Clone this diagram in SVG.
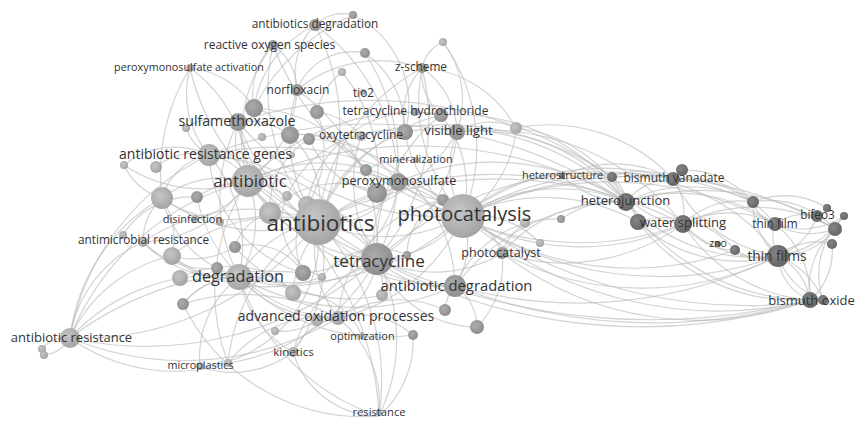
<svg xmlns="http://www.w3.org/2000/svg" width="856" height="421" viewBox="0 0 856 421">
<defs>
<radialGradient id="gL" cx="0.4" cy="0.4" r="0.65"><stop offset="0" stop-color="#c6c6c6"/><stop offset="1" stop-color="#a2a2a2"/></radialGradient>
<radialGradient id="gM" cx="0.4" cy="0.4" r="0.65"><stop offset="0" stop-color="#acacac"/><stop offset="1" stop-color="#8c8c8c"/></radialGradient>
<radialGradient id="gR" cx="0.4" cy="0.4" r="0.65"><stop offset="0" stop-color="#858585"/><stop offset="1" stop-color="#626262"/></radialGradient>
</defs>
<style>
.e path{fill:none;stroke:#bcbcbc;stroke-width:1.2;opacity:0.65}
.L{fill:url(#gL)}
.M{fill:url(#gM)}
.R{fill:url(#gR)}
text{font-family:"Open Sans","Liberation Sans",sans-serif;fill:#333333;text-anchor:middle}
</style>
<rect width="856" height="421" fill="#ffffff"/>
<g id="connectors" class="e">
<path d="M463 216A160 160 0 0 1 318 222"/><path d="M463 216A240 240 0 0 0 248 181"/><path d="M463 216A110 110 0 0 1 377 259"/><path d="M463 216A250 250 0 0 1 239 277"/><path d="M463 216A80 80 0 0 1 455 286"/><path d="M463 216A180 180 0 0 1 626 202"/><path d="M463 216A240 240 0 0 0 683 224"/><path d="M463 216A190 190 0 0 1 638 222"/><path d="M463 216A350 350 0 0 0 778 256"/><path d="M463 216A390 390 0 0 0 810 300"/><path d="M463 216A230 230 0 0 1 673 179"/><path d="M463 216A170 170 0 0 1 612 177"/><path d="M463 216A95 95 0 0 1 457 132"/><path d="M463 216A115 115 0 0 0 441 115"/><path d="M463 216A170 170 0 0 1 422 68"/><path d="M463 216A100 100 0 0 0 398 182"/><path d="M463 216A60 60 0 0 1 502 253"/><path d="M463 216A340 340 0 0 1 775 224"/><path d="M463 216A400 400 0 0 1 835 229"/><path d="M463 216A320 320 0 0 1 753 202"/><path d="M463 216A270 270 0 0 1 238 122"/><path d="M463 216A290 290 0 0 0 209 155"/><path d="M463 216A180 180 0 0 1 338 318"/><path d="M463 216A115 115 0 0 1 405 132"/><path d="M463 216A280 280 0 0 1 273 45"/><path d="M463 216A115 115 0 0 0 516 128"/><path d="M463 216A300 300 0 0 0 735 250"/>
<path d="M318 222A90 90 0 0 1 248 181"/><path d="M318 222A80 80 0 0 1 377 259"/><path d="M318 222A110 110 0 0 0 239 277"/><path d="M318 222A170 170 0 0 0 455 286"/><path d="M318 222A135 135 0 0 1 238 122"/><path d="M318 222A140 140 0 0 0 209 155"/><path d="M318 222A300 300 0 0 1 70 338"/><path d="M318 222A230 230 0 0 1 379 416"/><path d="M318 222A340 340 0 0 1 626 202"/><path d="M318 222A180 180 0 0 1 441 115"/><path d="M318 222A185 185 0 0 0 457 132"/><path d="M318 222A145 145 0 0 1 297 90"/><path d="M318 222A220 220 0 0 0 315 25"/><path d="M318 222A200 200 0 0 1 273 45"/><path d="M318 222A220 220 0 0 1 190 68"/><path d="M318 222A190 190 0 0 0 143 242"/><path d="M318 222A185 185 0 0 0 228 363"/><path d="M318 222A145 145 0 0 1 293 352"/><path d="M318 222A110 110 0 0 0 338 318"/><path d="M318 222A140 140 0 0 1 405 132"/><path d="M318 222A75 75 0 0 0 398 182"/><path d="M318 222A175 175 0 0 1 162 198"/><path d="M318 222A165 165 0 0 0 172 256"/><path d="M318 222A200 200 0 0 1 422 68"/><path d="M318 222A550 550 0 0 0 810 300"/><path d="M318 222A400 400 0 0 1 683 224"/><path d="M318 222A130 130 0 0 1 200 367"/>
<path d="M248 181A160 160 0 0 0 377 259"/><path d="M248 181A105 105 0 0 1 239 277"/><path d="M248 181A55 55 0 0 0 209 155"/><path d="M248 181A70 70 0 0 1 238 122"/><path d="M248 181A260 260 0 0 0 70 338"/><path d="M248 181A130 130 0 0 1 143 242"/><path d="M248 181A100 100 0 0 0 162 198"/><path d="M248 181A140 140 0 0 1 124 165"/><path d="M248 181A140 140 0 0 0 190 68"/><path d="M248 181A150 150 0 0 1 273 45"/><path d="M248 181A250 250 0 0 0 455 286"/><path d="M248 181A225 225 0 0 1 441 115"/><path d="M248 181A80 80 0 0 1 195 219"/><path d="M248 181A300 300 0 0 1 379 416"/><path d="M248 181A200 200 0 0 0 228 363"/><path d="M248 181A420 420 0 0 1 626 202"/><path d="M248 181A120 120 0 0 0 297 90"/><path d="M248 181A160 160 0 0 1 398 182"/>
<path d="M377 259A155 155 0 0 1 239 277"/><path d="M377 259A95 95 0 0 0 455 286"/><path d="M377 259A230 230 0 0 1 238 122"/><path d="M377 259A190 190 0 0 0 297 90"/><path d="M377 259A170 170 0 0 1 441 115"/><path d="M377 259A160 160 0 0 0 457 132"/><path d="M377 259A140 140 0 0 1 361 136"/><path d="M377 259A80 80 0 0 1 338 318"/><path d="M377 259A75 75 0 0 1 398 182"/><path d="M377 259A210 210 0 0 0 422 68"/><path d="M377 259A140 140 0 0 0 293 352"/><path d="M377 259A175 175 0 0 1 379 416"/><path d="M377 259A340 340 0 0 1 673 179"/><path d="M377 259A350 350 0 0 1 70 338"/><path d="M377 259A215 215 0 0 0 209 155"/><path d="M377 259A205 205 0 0 1 228 363"/><path d="M377 259A130 130 0 0 0 502 253"/>
<path d="M239 277A240 240 0 0 0 455 286"/><path d="M239 277A195 195 0 0 0 70 338"/><path d="M239 277A115 115 0 0 1 143 242"/><path d="M239 277A100 100 0 0 0 200 367"/><path d="M239 277A105 105 0 0 0 293 352"/><path d="M239 277A120 120 0 0 0 338 318"/><path d="M239 277A220 220 0 0 0 379 416"/><path d="M239 277A170 170 0 0 1 238 122"/><path d="M239 277A140 140 0 0 0 209 155"/><path d="M239 277A75 75 0 0 1 172 256"/><path d="M239 277A70 70 0 0 0 183 304"/><path d="M239 277A200 200 0 0 0 413 335"/><path d="M239 277A110 110 0 0 1 162 198"/>
<path d="M70 338A250 250 0 0 1 209 155"/><path d="M70 338A125 125 0 0 1 143 242"/><path d="M70 338A180 180 0 0 0 228 363"/><path d="M70 338A185 185 0 0 1 162 198"/><path d="M70 338A145 145 0 0 1 172 256"/><path d="M70 338A300 300 0 0 0 338 318"/><path d="M70 338A30 30 0 0 0 42 349"/><path d="M70 338A35 35 0 0 1 44 355"/><path d="M70 338A330 330 0 0 1 303 273"/>
<path d="M626 202A70 70 0 0 1 683 224"/><path d="M626 202A30 30 0 0 1 638 222"/><path d="M626 202A60 60 0 0 1 673 179"/><path d="M626 202A35 35 0 0 0 612 177"/><path d="M626 202A180 180 0 0 0 778 256"/><path d="M626 202A165 165 0 0 1 775 224"/><path d="M626 202A140 140 0 0 1 753 202"/><path d="M626 202A225 225 0 0 0 810 300"/><path d="M626 202A150 150 0 0 0 502 253"/><path d="M626 202A215 215 0 0 0 455 286"/><path d="M626 202A100 100 0 0 1 562 176"/><path d="M626 202A250 250 0 0 1 835 229"/>
<path d="M683 224A110 110 0 0 0 778 256"/><path d="M683 224A100 100 0 0 1 775 224"/><path d="M683 224A60 60 0 0 0 673 179"/><path d="M683 224A80 80 0 0 1 753 202"/><path d="M683 224A165 165 0 0 0 810 300"/><path d="M683 224A65 65 0 0 0 735 250"/><path d="M683 224A160 160 0 0 1 835 229"/><path d="M683 224A200 200 0 0 1 502 253"/>
<path d="M638 222A150 150 0 0 0 778 256"/><path d="M638 222A200 200 0 0 0 810 300"/><path d="M638 222A90 90 0 0 1 735 250"/>
<path d="M778 256A60 60 0 0 1 810 300"/><path d="M778 256A50 50 0 0 0 810 300"/><path d="M778 256A80 80 0 0 1 823 300"/><path d="M778 256A70 70 0 0 0 823 300"/><path d="M778 256A40 40 0 0 1 775 224"/><path d="M778 256A70 70 0 0 0 835 229"/><path d="M778 256A60 60 0 0 1 832 244"/><path d="M778 256A65 65 0 0 0 817 216"/><path d="M778 256A70 70 0 0 1 753 202"/><path d="M778 256A50 50 0 0 1 735 250"/><path d="M778 256A140 140 0 0 1 673 179"/><path d="M778 256A100 100 0 0 0 844 216"/>
<path d="M775 224A50 50 0 0 1 817 216"/><path d="M775 224A75 75 0 0 0 844 216"/><path d="M775 224A35 35 0 0 1 753 202"/><path d="M775 224A70 70 0 0 0 835 229"/><path d="M775 224A90 90 0 0 1 810 300"/>
<path d="M810 300A80 80 0 0 1 835 229"/><path d="M810 300A65 65 0 0 0 832 244"/><path d="M823 300A80 80 0 0 1 844 216"/>
<path d="M753 202A90 90 0 0 1 835 229"/><path d="M753 202A80 80 0 0 1 827 208"/><path d="M673 179A100 100 0 0 1 753 202"/><path d="M673 179A120 120 0 0 1 775 224"/><path d="M682 170A90 90 0 0 1 753 202"/>
<path d="M455 286A550 550 0 0 0 810 300"/><path d="M377 259A650 650 0 0 0 810 300"/><path d="M463 216A500 500 0 0 0 823 300"/><path d="M455 286A450 450 0 0 0 778 256"/><path d="M502 253A300 300 0 0 0 778 256"/><path d="M502 253A320 320 0 0 0 810 300"/>
<path d="M612 177A70 70 0 0 1 673 179"/><path d="M612 177A90 90 0 0 0 683 224"/><path d="M612 177A190 190 0 0 1 778 256"/><path d="M562 176A120 120 0 0 1 673 179"/>
<path d="M238 122A420 420 0 0 1 612 177"/><path d="M398 182A240 240 0 0 1 626 202"/><path d="M405 132A250 250 0 0 1 626 202"/><path d="M361 136A300 300 0 0 1 612 177"/><path d="M209 155A450 450 0 0 1 626 202"/><path d="M457 132A190 190 0 0 1 626 202"/><path d="M441 115A210 210 0 0 1 626 202"/><path d="M516 128A140 140 0 0 1 626 202"/><path d="M516 128A170 170 0 0 1 673 179"/><path d="M457 132A60 60 0 0 1 516 128"/><path d="M457 132A250 250 0 0 1 683 224"/><path d="M398 182A300 300 0 0 0 683 224"/>
<path d="M315 25A40 40 0 0 1 353 15"/><path d="M315 25A70 70 0 0 0 297 90"/><path d="M315 25A110 110 0 0 0 254 108"/><path d="M273 45A70 70 0 0 0 254 108"/><path d="M273 45A55 55 0 0 1 297 90"/><path d="M365 53A95 95 0 0 1 405 132"/><path d="M365 53A210 210 0 0 1 377 259"/><path d="M365 53A60 60 0 0 0 297 90"/><path d="M422 68A80 80 0 0 1 457 132"/><path d="M422 68A55 55 0 0 0 441 115"/><path d="M422 68A35 35 0 0 1 443 42"/><path d="M443 42A95 95 0 0 1 457 132"/><path d="M443 42A180 180 0 0 1 463 216"/><path d="M422 68A70 70 0 0 0 405 132"/><path d="M422 68A130 130 0 0 0 297 90"/><path d="M422 68A115 115 0 0 1 516 128"/><path d="M190 68A85 85 0 0 1 254 108"/><path d="M190 68A95 95 0 0 0 209 155"/><path d="M353 15A100 100 0 0 1 405 132"/><path d="M342 72A70 70 0 0 0 317 112"/><path d="M342 72A160 160 0 0 1 377 193"/><path d="M353 15A200 200 0 0 0 254 108"/><path d="M315 25A200 200 0 0 1 398 182"/><path d="M190 68A200 200 0 0 0 162 198"/>
<path d="M338 318A60 60 0 0 0 293 352"/><path d="M338 318A80 80 0 0 1 413 335"/><path d="M338 318A110 110 0 0 1 445 310"/><path d="M455 286A40 40 0 0 0 445 310"/><path d="M455 286A50 50 0 0 1 477 327"/><path d="M377 259A110 110 0 0 0 477 327"/><path d="M477 327A90 90 0 0 0 502 253"/><path d="M338 318A110 110 0 0 1 379 416"/><path d="M293 352A90 90 0 0 0 379 416"/><path d="M413 335A100 100 0 0 1 379 416"/><path d="M200 367A100 100 0 0 0 293 352"/><path d="M228 363A120 120 0 0 1 338 318"/><path d="M183 304A200 200 0 0 0 379 416"/><path d="M338 318A200 200 0 0 0 183 304"/><path d="M275 331A60 60 0 0 0 317 320"/><path d="M362 336A70 70 0 0 0 293 293"/>
<path d="M162 198A60 60 0 0 1 209 155"/><path d="M162 198A60 60 0 0 0 143 242"/><path d="M162 198A75 75 0 0 1 172 256"/><path d="M156 167A60 60 0 0 1 209 155"/><path d="M124 165A80 80 0 0 1 209 155"/><path d="M124 165A60 60 0 0 0 162 198"/><path d="M186 128A55 55 0 0 1 238 122"/><path d="M186 128A50 50 0 0 0 209 155"/><path d="M254 108A60 60 0 0 1 290 135"/><path d="M238 122A70 70 0 0 1 290 135"/><path d="M290 135A90 90 0 0 1 318 222"/><path d="M309 139A80 80 0 0 0 270 213"/><path d="M317 112A100 100 0 0 1 307 205"/><path d="M270 213A50 50 0 0 0 235 247"/><path d="M235 247A60 60 0 0 1 303 273"/><path d="M217 268A80 80 0 0 1 293 293"/><path d="M172 256A80 80 0 0 0 235 247"/><path d="M180 278A80 80 0 0 1 217 268"/><path d="M183 304A80 80 0 0 1 293 293"/><path d="M143 242A90 90 0 0 0 217 268"/><path d="M123 235A80 80 0 0 1 197 197"/><path d="M197 197A80 80 0 0 1 287 196"/><path d="M287 196A60 60 0 0 0 322 277"/><path d="M307 205A70 70 0 0 0 303 273"/><path d="M303 273A100 100 0 0 0 398 182"/><path d="M293 293A110 110 0 0 1 377 193"/><path d="M382 295A80 80 0 0 0 307 205"/><path d="M322 277A70 70 0 0 1 407 255"/><path d="M366 170A80 80 0 0 0 290 135"/><path d="M377 193A90 90 0 0 1 309 139"/><path d="M361 136A70 70 0 0 0 317 112"/><path d="M416 161A80 80 0 0 0 366 170"/><path d="M443 200A80 80 0 0 1 398 182"/><path d="M443 200A60 60 0 0 0 407 255"/><path d="M525 223A60 60 0 0 0 502 253"/><path d="M540 243A90 90 0 0 0 463 216"/><path d="M561 219A100 100 0 0 1 626 202"/><path d="M561 219A110 110 0 0 0 455 286"/>
<path d="M270 213A90 90 0 0 1 377 193"/><path d="M307 205A110 110 0 0 1 441 115"/><path d="M290 135A120 120 0 0 1 398 182"/><path d="M254 108A140 140 0 0 1 377 193"/><path d="M162 198A120 120 0 0 0 270 213"/><path d="M209 155A130 130 0 0 0 303 273"/><path d="M235 247A150 150 0 0 0 382 295"/><path d="M172 256A160 160 0 0 0 322 277"/><path d="M287 196A110 110 0 0 1 405 132"/><path d="M197 197A150 150 0 0 0 338 318"/><path d="M443 200A130 130 0 0 0 338 318"/><path d="M309 139A150 150 0 0 1 455 286"/>
</g>
<g id="n-u1"><circle class="M" cx="353" cy="15" r="4"/></g>
<g id="n-u2"><circle class="M" cx="365" cy="53" r="5"/></g>
<g id="n-u3"><circle class="L" cx="342" cy="72" r="4"/></g>
<g id="n-u4"><circle class="L" cx="443" cy="42" r="4"/></g>
<g id="n-u5"><circle class="M" cx="254" cy="108" r="9"/></g>
<g id="n-u6"><circle class="M" cx="317" cy="112" r="7"/></g>
<g id="n-u7"><circle class="M" cx="290" cy="135" r="9"/></g>
<g id="n-u8"><circle class="L" cx="262" cy="137" r="4"/></g>
<g id="n-u9"><circle class="M" cx="309" cy="139" r="6"/></g>
<g id="n-u10"><circle class="L" cx="186" cy="128" r="4"/></g>
<g id="n-u11"><circle class="L" cx="156" cy="167" r="6"/></g>
<g id="n-u12"><circle class="L" cx="124" cy="165" r="4"/></g>
<g id="n-u13"><circle class="L" cx="292" cy="155" r="3"/></g>
<g id="n-u14"><circle class="L" cx="162" cy="198" r="11"/></g>
<g id="n-u15"><circle class="M" cx="197" cy="197" r="6"/></g>
<g id="n-u16"><circle class="L" cx="287" cy="196" r="5"/></g>
<g id="n-u17"><circle class="L" cx="270" cy="213" r="11"/></g>
<g id="n-u18"><circle class="L" cx="307" cy="205" r="9"/></g>
<g id="n-u19"><circle class="M" cx="235" cy="247" r="6"/></g>
<g id="n-u20"><circle class="L" cx="123" cy="235" r="4"/></g>
<g id="n-u21"><circle class="L" cx="172" cy="256" r="9"/></g>
<g id="n-u22"><circle class="L" cx="180" cy="278" r="8"/></g>
<g id="n-u23"><circle class="M" cx="217" cy="268" r="6"/></g>
<g id="n-u24"><circle class="M" cx="183" cy="304" r="6"/></g>
<g id="n-u25"><circle class="M" cx="303" cy="273" r="8"/></g>
<g id="n-u26"><circle class="L" cx="293" cy="293" r="8"/></g>
<g id="n-u27"><circle class="L" cx="322" cy="277" r="4"/></g>
<g id="n-u28"><circle class="M" cx="407" cy="255" r="4"/></g>
<g id="n-u29"><circle class="L" cx="382" cy="295" r="6"/></g>
<g id="n-u30"><circle class="M" cx="445" cy="310" r="6"/></g>
<g id="n-u31"><circle class="M" cx="477" cy="327" r="7"/></g>
<g id="n-u32"><circle class="M" cx="413" cy="335" r="5"/></g>
<g id="n-u33"><circle class="L" cx="317" cy="320" r="6"/></g>
<g id="n-u34"><circle class="L" cx="275" cy="331" r="4"/></g>
<g id="n-u35"><circle class="L" cx="42" cy="349" r="4"/></g>
<g id="n-u36"><circle class="L" cx="44" cy="355" r="4"/></g>
<g id="n-u37"><circle class="M" cx="443" cy="200" r="6"/></g>
<g id="n-u38"><circle class="L" cx="525" cy="223" r="5"/></g>
<g id="n-u39"><circle class="L" cx="540" cy="243" r="4"/></g>
<g id="n-u40"><circle class="L" cx="516" cy="128" r="6"/></g>
<g id="n-u41"><circle class="M" cx="366" cy="170" r="6"/></g>
<g id="n-u42"><circle class="M" cx="377" cy="193" r="10"/></g>
<g id="n-u43"><circle class="M" cx="561" cy="219" r="4"/></g>
<g id="n-u44"><circle class="R" cx="682" cy="170" r="6"/></g>
<g id="n-u45"><circle class="R" cx="638" cy="222" r="8"/></g>
<g id="n-u46"><circle class="R" cx="753" cy="202" r="6"/></g>
<g id="n-u47"><circle class="R" cx="827" cy="208" r="4"/></g>
<g id="n-u48"><circle class="R" cx="844" cy="216" r="4"/></g>
<g id="n-u49"><circle class="R" cx="835" cy="229" r="7"/></g>
<g id="n-u50"><circle class="R" cx="832" cy="244" r="5"/></g>
<g id="n-u51"><circle class="R" cx="823" cy="300" r="5"/></g>
<g id="n-u52"><circle class="M" cx="405" cy="132" r="8"/></g>
<g id="n-u53"><circle class="M" cx="441" cy="115" r="7"/></g>
<g id="n-u54"><circle class="R" cx="612" cy="177" r="5"/></g>
<g id="n-u55"><circle class="R" cx="735" cy="250" r="5"/></g>
<g id="n-u56"><circle class="L" cx="220" cy="222" r="4"/></g>
<g id="n-u57"><circle class="L" cx="228" cy="363" r="4"/></g>
<g id="n-antibiotics-degradation"><circle class="M" cx="315" cy="25" r="6"/><text x="315" y="28" font-size="11.8">antibiotics degradation</text></g>
<g id="n-reactive-oxygen-species"><circle class="M" cx="273" cy="45" r="5"/><text x="269.5" y="48.5" font-size="12">reactive oxygen species</text></g>
<g id="n-peroxymonosulfate-activation"><circle class="L" cx="190" cy="68" r="4"/><text x="189" y="71" font-size="10.8">peroxymonosulfate activation</text></g>
<g id="n-z-scheme"><circle class="M" cx="422" cy="68" r="5"/><text x="421" y="71" font-size="11.8">z-scheme</text></g>
<g id="n-norfloxacin"><circle class="M" cx="297" cy="90" r="6"/><text x="298" y="94" font-size="12">norfloxacin</text></g>
<g id="n-tio2"><circle class="L" cx="363" cy="92" r="3"/><text x="363.5" y="96.5" font-size="11.7">tio2</text></g>
<g id="n-tetracycline-hydrochloride"><circle class="M" cx="415" cy="112" r="4"/><text x="415.5" y="115" font-size="12">tetracycline hydrochloride</text></g>
<g id="n-sulfamethoxazole"><circle class="M" cx="238" cy="122" r="9"/><text x="237" y="126" font-size="14.2">sulfamethoxazole</text></g>
<g id="n-oxytetracycline"><circle class="L" cx="361" cy="136" r="5"/><text x="361" y="139" font-size="12">oxytetracycline</text></g>
<g id="n-visible-light"><circle class="M" cx="457" cy="132" r="8"/><text x="458.5" y="135" font-size="13.2">visible light</text></g>
<g id="n-antibiotic-resistance-genes"><circle class="L" cx="209" cy="155" r="11"/><text x="205.5" y="158.5" font-size="14">antibiotic resistance genes</text></g>
<g id="n-mineralization"><circle class="L" cx="416" cy="160" r="3"/><text x="416" y="163" font-size="11">mineralization</text></g>
<g id="n-antibiotic"><circle class="L" cx="248" cy="181" r="16"/><text x="250" y="187" font-size="17">antibiotic</text></g>
<g id="n-peroxymonosulfate"><circle class="M" cx="398" cy="182" r="9"/><text x="399" y="185" font-size="12.6">peroxymonosulfate</text></g>
<g id="n-heterostructure"><circle class="R" cx="562" cy="176" r="3"/><text x="562.5" y="179" font-size="11">heterostructure</text></g>
<g id="n-bismuth-vanadate"><circle class="R" cx="673" cy="179" r="7"/><text x="674" y="181.5" font-size="12">bismuth vanadate</text></g>
<g id="n-disinfection"><circle class="L" cx="195" cy="219" r="4"/><text x="192.5" y="223" font-size="11">disinfection</text></g>
<g id="n-antimicrobial-resistance"><circle class="L" cx="143" cy="242" r="5"/><text x="143.5" y="244" font-size="11.8">antimicrobial resistance</text></g>
<g id="n-antibiotics"><circle class="L" cx="318" cy="222" r="23"/><text x="320.5" y="231" font-size="22.5">antibiotics</text></g>
<g id="n-photocatalysis"><circle class="L" cx="463" cy="216" r="22"/><text x="464.5" y="221" font-size="20">photocatalysis</text></g>
<g id="n-heterojunction"><circle class="R" cx="626" cy="202" r="9"/><text x="625.5" y="205" font-size="13">heterojunction</text></g>
<g id="n-water-splitting"><circle class="R" cx="683" cy="224" r="9"/><text x="683" y="227" font-size="13">water splitting</text></g>
<g id="n-thin-film"><circle class="R" cx="775" cy="224" r="7"/><text x="775" y="227.5" font-size="11.8">thin film</text></g>
<g id="n-bifeo3"><circle class="R" cx="817" cy="216" r="6"/><text x="817.5" y="218.5" font-size="11.8">bifeo3</text></g>
<g id="n-zno"><circle class="R" cx="718" cy="244" r="3"/><text x="718" y="246.5" font-size="10.5">zno</text></g>
<g id="n-photocatalyst"><circle class="M" cx="502" cy="253" r="6"/><text x="501" y="257" font-size="12.6">photocatalyst</text></g>
<g id="n-thin-films"><circle class="R" cx="778" cy="256" r="11"/><text x="777" y="260.5" font-size="13.6">thin films</text></g>
<g id="n-tetracycline"><circle class="M" cx="377" cy="259" r="16"/><text x="379" y="267" font-size="17">tetracycline</text></g>
<g id="n-degradation"><circle class="L" cx="239" cy="277" r="13"/><text x="238" y="282" font-size="16.2">degradation</text></g>
<g id="n-antibiotic-degradation"><circle class="M" cx="455" cy="286" r="11"/><text x="456.5" y="290.5" font-size="14.8">antibiotic degradation</text></g>
<g id="n-bismuth-oxide"><circle class="R" cx="810" cy="300" r="8"/><text x="811.5" y="304.5" font-size="13">bismuth oxide</text></g>
<g id="n-advanced-oxidation-processes"><circle class="L" cx="338" cy="318" r="7"/><text x="336" y="320.5" font-size="14">advanced oxidation processes</text></g>
<g id="n-optimization"><circle class="L" cx="362" cy="336" r="3"/><text x="362.5" y="340" font-size="11">optimization</text></g>
<g id="n-antibiotic-resistance"><circle class="L" cx="70" cy="338" r="10"/><text x="71.5" y="342" font-size="13">antibiotic resistance</text></g>
<g id="n-kinetics"><circle class="L" cx="293" cy="352" r="5"/><text x="293.5" y="355.5" font-size="11.5">kinetics</text></g>
<g id="n-microplastics"><circle class="L" cx="200" cy="366" r="4"/><text x="200.5" y="368.5" font-size="10.8">microplastics</text></g>
<g id="n-resistance"><circle class="L" cx="379" cy="412" r="3"/><text x="379" y="415.5" font-size="11.2">resistance</text></g>
</svg>
